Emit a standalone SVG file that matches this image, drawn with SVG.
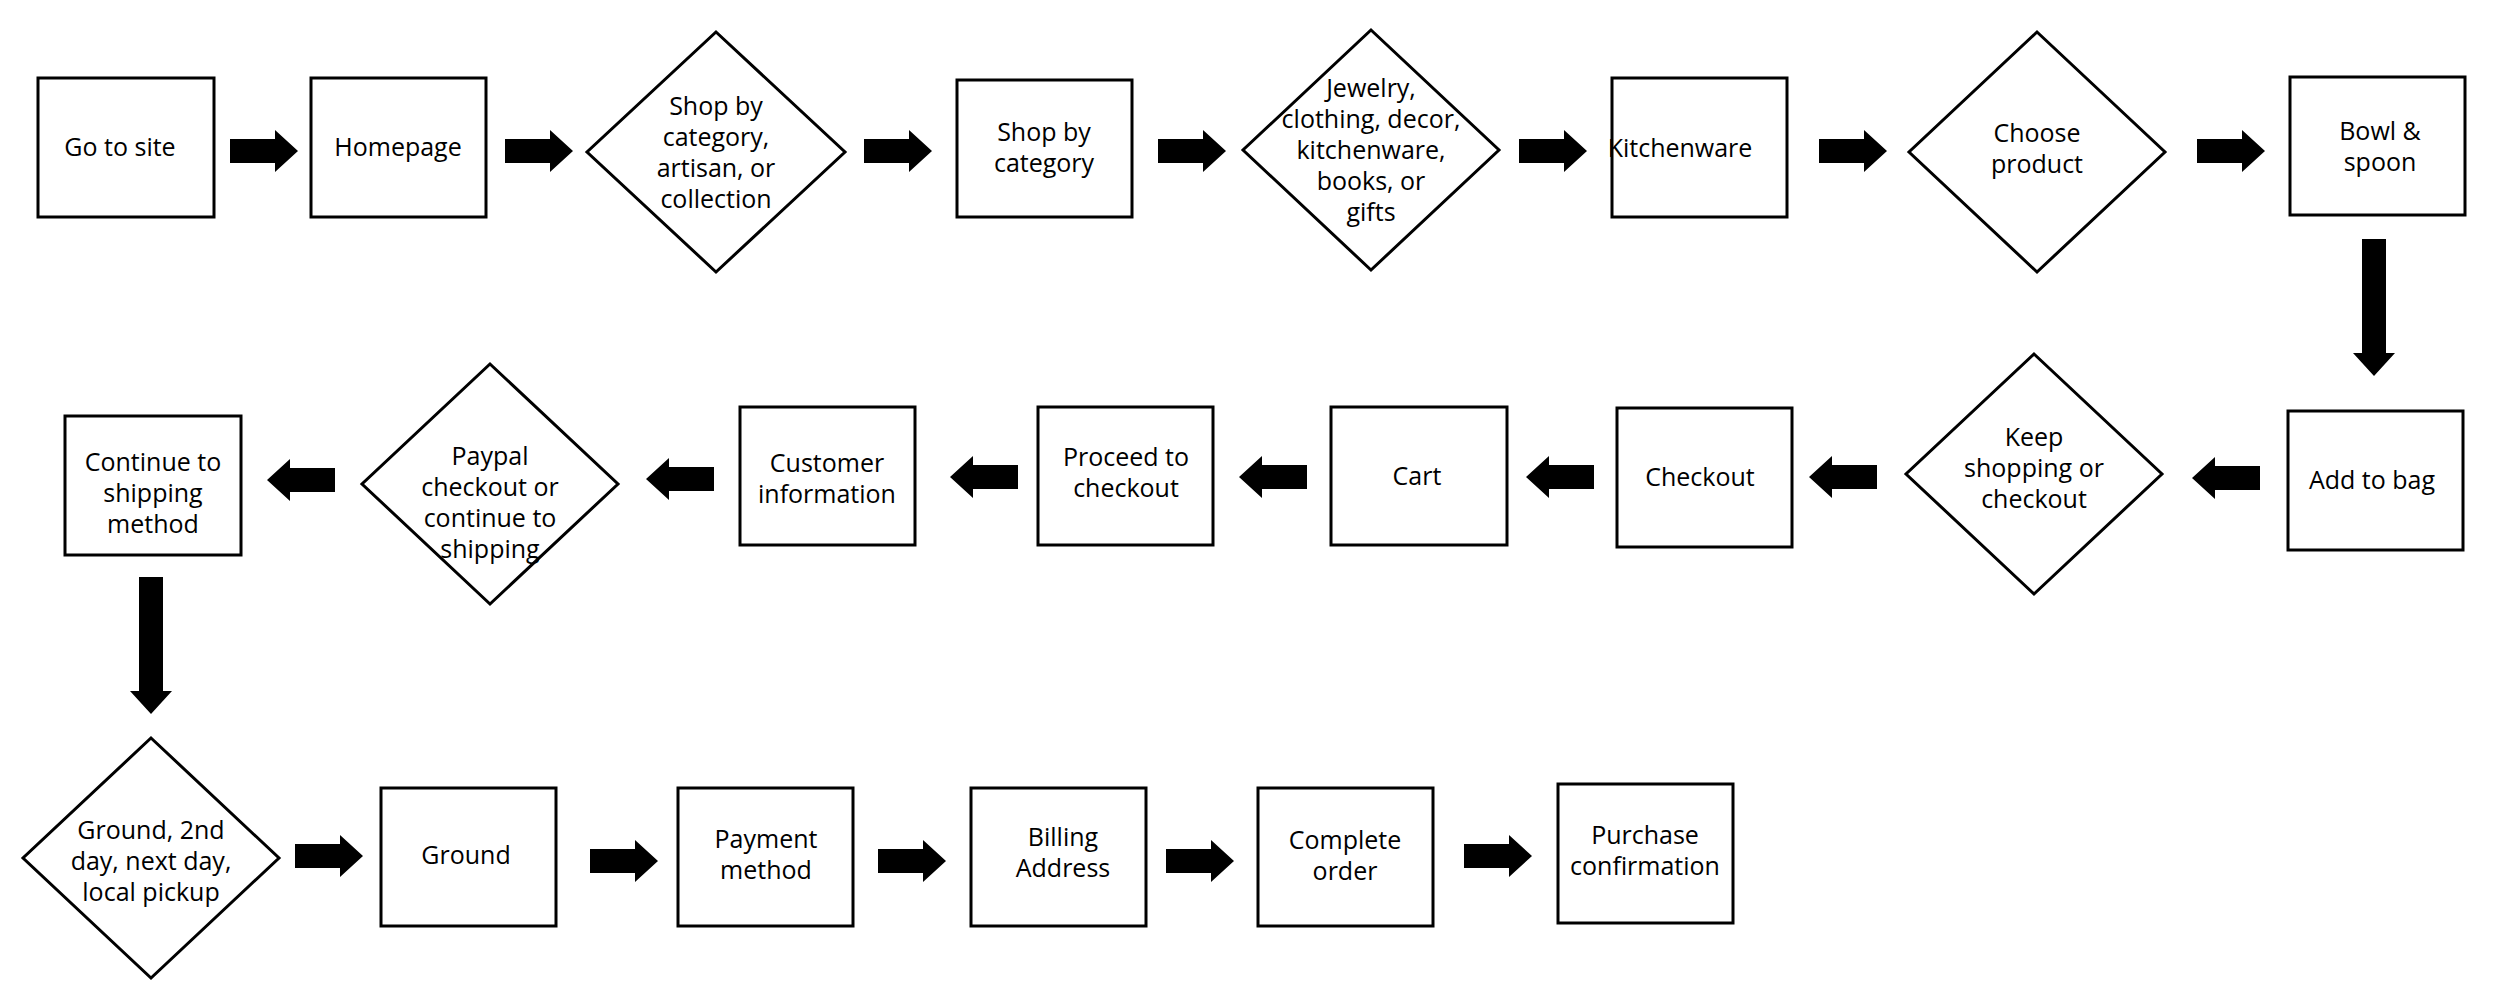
<svg xmlns="http://www.w3.org/2000/svg" xmlns:xlink="http://www.w3.org/1999/xlink" width="2500" height="991" viewBox="0 0 2500 991">
<style>
.n{fill:#fff;stroke:#000;stroke-width:3}
.d{fill:#fff;stroke:#000;stroke-width:3}
text{font-family:"Open Sans","Noto Sans",sans-serif;font-size:25px;fill:#000;text-anchor:middle}
</style>
<defs>
<path id="ar" d="M0,-12 H45 V-21 L68,0 L45,21 V12 H0 Z" fill="#000"/>
<path id="ad" d="M0,-12 H114 V-21 L137,0 L114,21 V12 H0 Z" fill="#000"/>
</defs>
<rect width="2500" height="991" fill="#fff"/>
<g id="connectors">
<use href="#ar" transform="translate(230,151)"/>
<use href="#ar" transform="translate(505,151)"/>
<use href="#ar" transform="translate(864,151)"/>
<use href="#ar" transform="translate(1158,151)"/>
<use href="#ar" transform="translate(1519,151)"/>
<use href="#ar" transform="translate(1819,151)"/>
<use href="#ar" transform="translate(2197,151)"/>
<use href="#ad" transform="translate(2374,239) rotate(90)"/>
<use href="#ar" transform="translate(2260,478) rotate(180)"/>
<use href="#ar" transform="translate(1877,477) rotate(180)"/>
<use href="#ar" transform="translate(1594,477) rotate(180)"/>
<use href="#ar" transform="translate(1307,477) rotate(180)"/>
<use href="#ar" transform="translate(1018,477) rotate(180)"/>
<use href="#ar" transform="translate(714,479) rotate(180)"/>
<use href="#ar" transform="translate(335,480) rotate(180)"/>
<use href="#ad" transform="translate(151,577) rotate(90)"/>
<use href="#ar" transform="translate(295,856)"/>
<use href="#ar" transform="translate(590,861)"/>
<use href="#ar" transform="translate(878,861)"/>
<use href="#ar" transform="translate(1166,861)"/>
<use href="#ar" transform="translate(1464,856)"/>
</g>
<g id="n1"><rect class="n" x="38" y="78" width="176" height="139"/><text x="120" y="156">Go to site</text></g>
<g id="n2"><rect class="n" x="311" y="78" width="175" height="139"/><text x="398" y="156">Homepage</text></g>
<g id="n3"><polygon class="d" points="716,32 845,152 716,272 587,152"/><text x="716" y="115">Shop by<tspan x="716" dy="31">category,</tspan><tspan x="716" dy="31">artisan, or</tspan><tspan x="716" dy="31">collection</tspan></text></g>
<g id="n4"><rect class="n" x="957" y="80" width="175" height="137"/><text x="1044" y="141">Shop by<tspan x="1044" dy="31">category</tspan></text></g>
<g id="n5"><polygon class="d" points="1371,30 1499,150 1371,270 1243,150"/><text x="1371" y="97">Jewelry,<tspan x="1371" dy="31">clothing, decor,</tspan><tspan x="1371" dy="31">kitchenware,</tspan><tspan x="1371" dy="31">books, or</tspan><tspan x="1371" dy="31">gifts</tspan></text></g>
<g id="n6"><rect class="n" x="1612" y="78" width="175" height="139"/><text x="1680" y="157">Kitchenware</text></g>
<g id="n7"><polygon class="d" points="2037,32 2165,152 2037,272 1909,152"/><text x="2037" y="142">Choose<tspan x="2037" dy="31">product</tspan></text></g>
<g id="n8"><rect class="n" x="2290" y="77" width="175" height="138"/><text x="2380" y="140">Bowl &amp;<tspan x="2380" dy="31">spoon</tspan></text></g>
<g id="n9"><rect class="n" x="2288" y="411" width="175" height="139"/><text x="2372" y="489">Add to bag</text></g>
<g id="n10"><polygon class="d" points="2034,354 2162,474 2034,594 1906,474"/><text x="2034" y="446">Keep<tspan x="2034" dy="31">shopping or</tspan><tspan x="2034" dy="31">checkout</tspan></text></g>
<g id="n11"><rect class="n" x="1617" y="408" width="175" height="139"/><text x="1700" y="486">Checkout</text></g>
<g id="n12"><rect class="n" x="1331" y="407" width="176" height="138"/><text x="1417" y="485">Cart</text></g>
<g id="n13"><rect class="n" x="1038" y="407" width="175" height="138"/><text x="1126" y="466">Proceed to<tspan x="1126" dy="31">checkout</tspan></text></g>
<g id="n14"><rect class="n" x="740" y="407" width="175" height="138"/><text x="827" y="472">Customer<tspan x="827" dy="31">information</tspan></text></g>
<g id="n15"><polygon class="d" points="490,364 618,484 490,604 362,484"/><text x="490" y="465">Paypal<tspan x="490" dy="31">checkout or</tspan><tspan x="490" dy="31">continue to</tspan><tspan x="490" dy="31">shipping</tspan></text></g>
<g id="n16"><rect class="n" x="65" y="416" width="176" height="139"/><text x="153" y="471">Continue to<tspan x="153" dy="31">shipping</tspan><tspan x="153" dy="31">method</tspan></text></g>
<g id="n17"><polygon class="d" points="151,738 279,858 151,978 23,858"/><text x="151" y="839">Ground, 2nd<tspan x="151" dy="31">day, next day,</tspan><tspan x="151" dy="31">local pickup</tspan></text></g>
<g id="n18"><rect class="n" x="381" y="788" width="175" height="138"/><text x="466" y="864">Ground</text></g>
<g id="n19"><rect class="n" x="678" y="788" width="175" height="138"/><text x="766" y="848">Payment<tspan x="766" dy="31">method</tspan></text></g>
<g id="n20"><rect class="n" x="971" y="788" width="175" height="138"/><text x="1063" y="846">Billing<tspan x="1063" dy="31">Address</tspan></text></g>
<g id="n21"><rect class="n" x="1258" y="788" width="175" height="138"/><text x="1345" y="849">Complete<tspan x="1345" dy="31">order</tspan></text></g>
<g id="n22"><rect class="n" x="1558" y="784" width="175" height="139"/><text x="1645" y="844">Purchase<tspan x="1645" dy="31">confirmation</tspan></text></g>
</svg>
